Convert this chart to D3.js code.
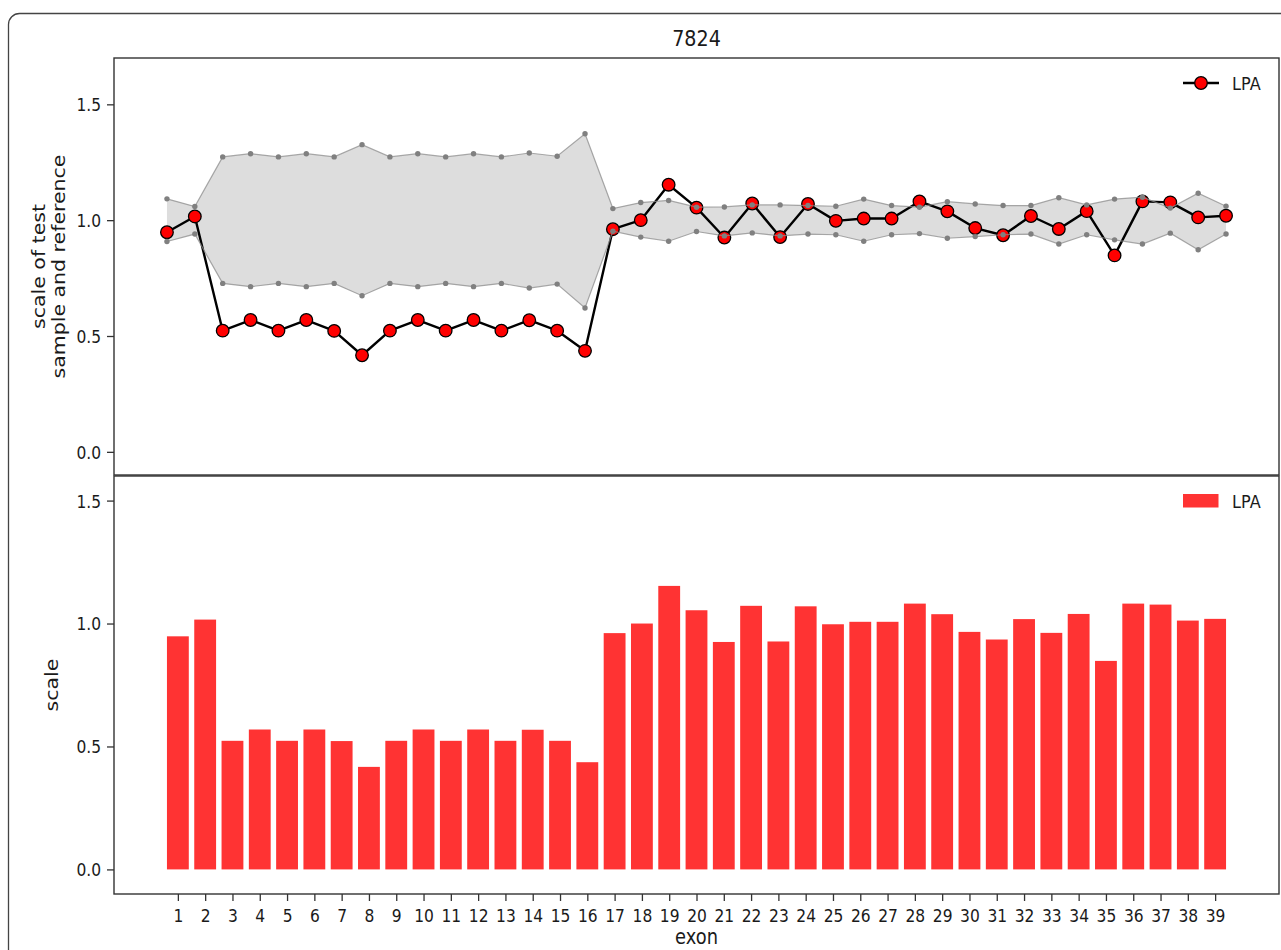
<!DOCTYPE html>
<html>
<head>
<meta charset="utf-8">
<script src="https://cdn.jsdelivr.net/npm/d3@7"></script>
<style>
  html, body { margin: 0; padding: 0; background: #fff; }
  svg { display: block; }
  text { font-family: "DejaVu Sans", sans-serif; fill: #1a1a1a; }
</style>
</head>
<body>
<svg id="chart" width="1281" height="950"></svg>
<script>
// Exon numbers along the gene
const exons = [1,2,3,4,5,6,7,8,9,10,11,12,13,14,15,16,17,18,19,20,
               21,22,23,24,25,26,27,28,29,30,31,32,33,34,35,36,37,38,39];

// Scale of test sample relative to reference, per exon (LPA)
const lpaScale = [0.948,1.016,0.523,0.569,0.523,0.569,0.522,0.417,0.523,0.569,
                  0.523,0.569,0.523,0.568,0.523,0.436,0.961,1.000,1.153,1.054,
                  0.925,1.072,0.927,1.070,0.997,1.007,1.007,1.081,1.038,0.966,
                  0.935,1.018,0.962,1.039,0.848,1.081,1.077,1.012,1.019];

// Reference band: upper and lower bounds per exon
const bandUpper = [1.092,1.059,1.273,1.287,1.273,1.287,1.273,1.326,1.273,1.287,
                   1.273,1.287,1.273,1.290,1.276,1.373,1.050,1.076,1.085,1.056,
                   1.057,1.066,1.066,1.063,1.060,1.091,1.063,1.056,1.080,1.070,
                   1.063,1.063,1.097,1.066,1.091,1.099,1.052,1.116,1.060];
const bandLower = [0.908,0.940,0.727,0.713,0.727,0.713,0.727,0.674,0.727,0.713,
                   0.727,0.713,0.727,0.707,0.724,0.621,0.952,0.927,0.909,0.951,
                   0.932,0.945,0.932,0.940,0.937,0.909,0.937,0.942,0.922,0.929,
                   0.937,0.940,0.897,0.937,0.915,0.897,0.944,0.872,0.940];

// Axis tick values and labels
const yTicks = [0.0, 0.5, 1.0, 1.5];
const chartTitle = "7824";
const seriesName = "LPA";

const svg = d3.select("#chart");
const SX = 0.87;            // horizontal text squeeze
const tickFont = 17.8, labelFont = 20.5, titleFont = 22, legendFont = 18.5;

// Panel geometry
const left = 114, right = 1279;
const top1 = 58, bottom1 = 475;
const top2 = 476, bottom2 = 894;

const data = exons.map((e, i) => ({ exon: e, v: lpaScale[i], hi: bandUpper[i], lo: bandLower[i] }));

// Outer frame
svg.append("rect")
  .attr("x", 8.5).attr("y", 13.5).attr("width", 1320).attr("height", 980)
  .attr("rx", 11).attr("fill", "none").attr("stroke", "#444").attr("stroke-width", 1.3);

// Title
svg.append("text")
  .attr("transform", `translate(${(left + right) / 2},46) scale(${SX},1)`)
  .attr("text-anchor", "middle").style("font-size", titleFont + "px")
  .text(chartTitle);

// ---------- Upper panel: line with reference band ----------
const x1 = d3.scaleLinear().domain([exons[0] - 1.9, exons[exons.length - 1] + 1.9]).range([left, right]);
const y1 = d3.scaleLinear().domain([-0.1, 1.7]).range([bottom1, top1]);

const g1 = svg.append("g");

g1.append("path").datum(data)
  .attr("d", d3.area().x(d => x1(d.exon)).y0(d => y1(d.lo)).y1(d => y1(d.hi)))
  .attr("fill", "#dddddd");

g1.append("path").datum(data)
  .attr("d", d3.line().x(d => x1(d.exon)).y(d => y1(d.v)))
  .attr("fill", "none").attr("stroke", "#000").attr("stroke-width", 2.4)
  .attr("stroke-linejoin", "round");

g1.selectAll("circle.pt").data(data).join("circle")
  .attr("class", "pt")
  .attr("cx", d => x1(d.exon)).attr("cy", d => y1(d.v)).attr("r", 6.3)
  .attr("fill", "#ff0000").attr("stroke", "#000").attr("stroke-width", 1.3);

["hi", "lo"].forEach(k => {
  g1.append("path").datum(data)
    .attr("d", d3.line().x(d => x1(d.exon)).y(d => y1(d[k])))
    .attr("fill", "none").attr("stroke", "#8c8c8c").attr("stroke-opacity", 0.75)
    .attr("stroke-width", 1.2);
  g1.selectAll("circle.b" + k).data(data).join("circle")
    .attr("class", "b" + k)
    .attr("cx", d => x1(d.exon)).attr("cy", d => y1(d[k])).attr("r", 2.7)
    .attr("fill", "#808080");
});

// Left axis, upper panel
const ax1 = svg.append("g").attr("transform", `translate(${left},0)`)
  .call(d3.axisLeft(y1).tickValues(yTicks).tickFormat(d3.format(".1f")).tickSize(7).tickPadding(0));
// Frame of upper panel
svg.append("rect").attr("x", left).attr("y", top1).attr("width", right - left).attr("height", bottom1 - top1)
  .attr("fill", "none").attr("stroke", "#333").attr("stroke-width", 1.4);

// Legend, upper panel
const lg1 = svg.append("g");
lg1.append("line").attr("x1", 1183).attr("x2", 1219).attr("y1", 83).attr("y2", 83)
  .attr("stroke", "#000").attr("stroke-width", 2.4);
lg1.append("circle").attr("cx", 1201).attr("cy", 83).attr("r", 6.3)
  .attr("fill", "#ff0000").attr("stroke", "#000").attr("stroke-width", 1.3);
lg1.append("text").attr("transform", `translate(1232,90) scale(${SX},1)`)
  .style("font-size", legendFont + "px").text(seriesName);

// y label, upper panel (two lines)
const yl1 = svg.append("text")
  .attr("transform", `translate(45,${(top1 + bottom1) / 2}) scale(${SX},1) rotate(-90)`)
  .attr("text-anchor", "middle").style("font-size", labelFont + "px");
yl1.append("tspan").attr("x", 0).attr("dy", 0).text("scale of test");
yl1.append("tspan").attr("x", 0).attr("dy", "1.1em").text("sample and reference");

// ---------- Lower panel: bars ----------
const x2 = d3.scaleLinear().domain([exons[0] - 0.4 - 1.94, exons[exons.length - 1] + 0.4 + 1.94]).range([left, right]);
const y2 = d3.scaleLinear().domain([-0.1, 1.6]).range([bottom2, top2]);

svg.append("g").selectAll("rect.bar").data(data).join("rect")
  .attr("class", "bar")
  .attr("x", d => x2(d.exon - 0.4))
  .attr("width", d => x2(d.exon + 0.4) - x2(d.exon - 0.4))
  .attr("y", d => y2(d.v))
  .attr("height", d => y2(0) - y2(d.v))
  .attr("fill", "#ff3333");

const ax2 = svg.append("g").attr("transform", `translate(${left},0)`)
  .call(d3.axisLeft(y2).tickValues(yTicks).tickFormat(d3.format(".1f")).tickSize(7).tickPadding(0));

const ax3 = svg.append("g").attr("transform", `translate(0,${bottom2})`)
  .call(d3.axisBottom(x2).tickValues(exons).tickFormat(d3.format("d")).tickSize(7).tickPadding(0));

svg.append("rect").attr("x", left).attr("y", top2).attr("width", right - left).attr("height", bottom2 - top2)
  .attr("fill", "none").attr("stroke", "#333").attr("stroke-width", 1.4);

// Axis styling
[ax1, ax2, ax3].forEach(ax => {
  ax.select(".domain").remove();
  ax.selectAll(".tick line").attr("stroke", "#333").attr("stroke-width", 1.3);
  ax.selectAll(".tick text").style("font-size", tickFont + "px").style("font-family", "DejaVu Sans")
    .attr("fill", "#1a1a1a");
});
[ax1, ax2].forEach(ax => {
  ax.selectAll(".tick text").attr("x", 0).attr("dy", "0.36em")
    .attr("transform", `translate(-13,0) scale(${SX},1)`);
});
ax3.selectAll(".tick text").attr("y", 0).attr("dy", 0)
  .attr("transform", `translate(0,28) scale(${SX},1)`);

// Legend, lower panel
svg.append("rect").attr("x", 1183).attr("y", 494).attr("width", 35.5).attr("height", 13.5).attr("fill", "#ff3333");
svg.append("text").attr("transform", `translate(1232,508) scale(${SX},1)`)
  .style("font-size", legendFont + "px").text(seriesName);

// Axis labels, lower panel
svg.append("text")
  .attr("transform", `translate(58,${(top2 + bottom2) / 2}) scale(${SX},1) rotate(-90)`)
  .attr("text-anchor", "middle").style("font-size", labelFont + "px").text("scale");
svg.append("text")
  .attr("transform", `translate(${(left + right) / 2},944) scale(${SX},1)`)
  .attr("text-anchor", "middle").style("font-size", labelFont + "px").text("exon");
</script>
</body>
</html>
